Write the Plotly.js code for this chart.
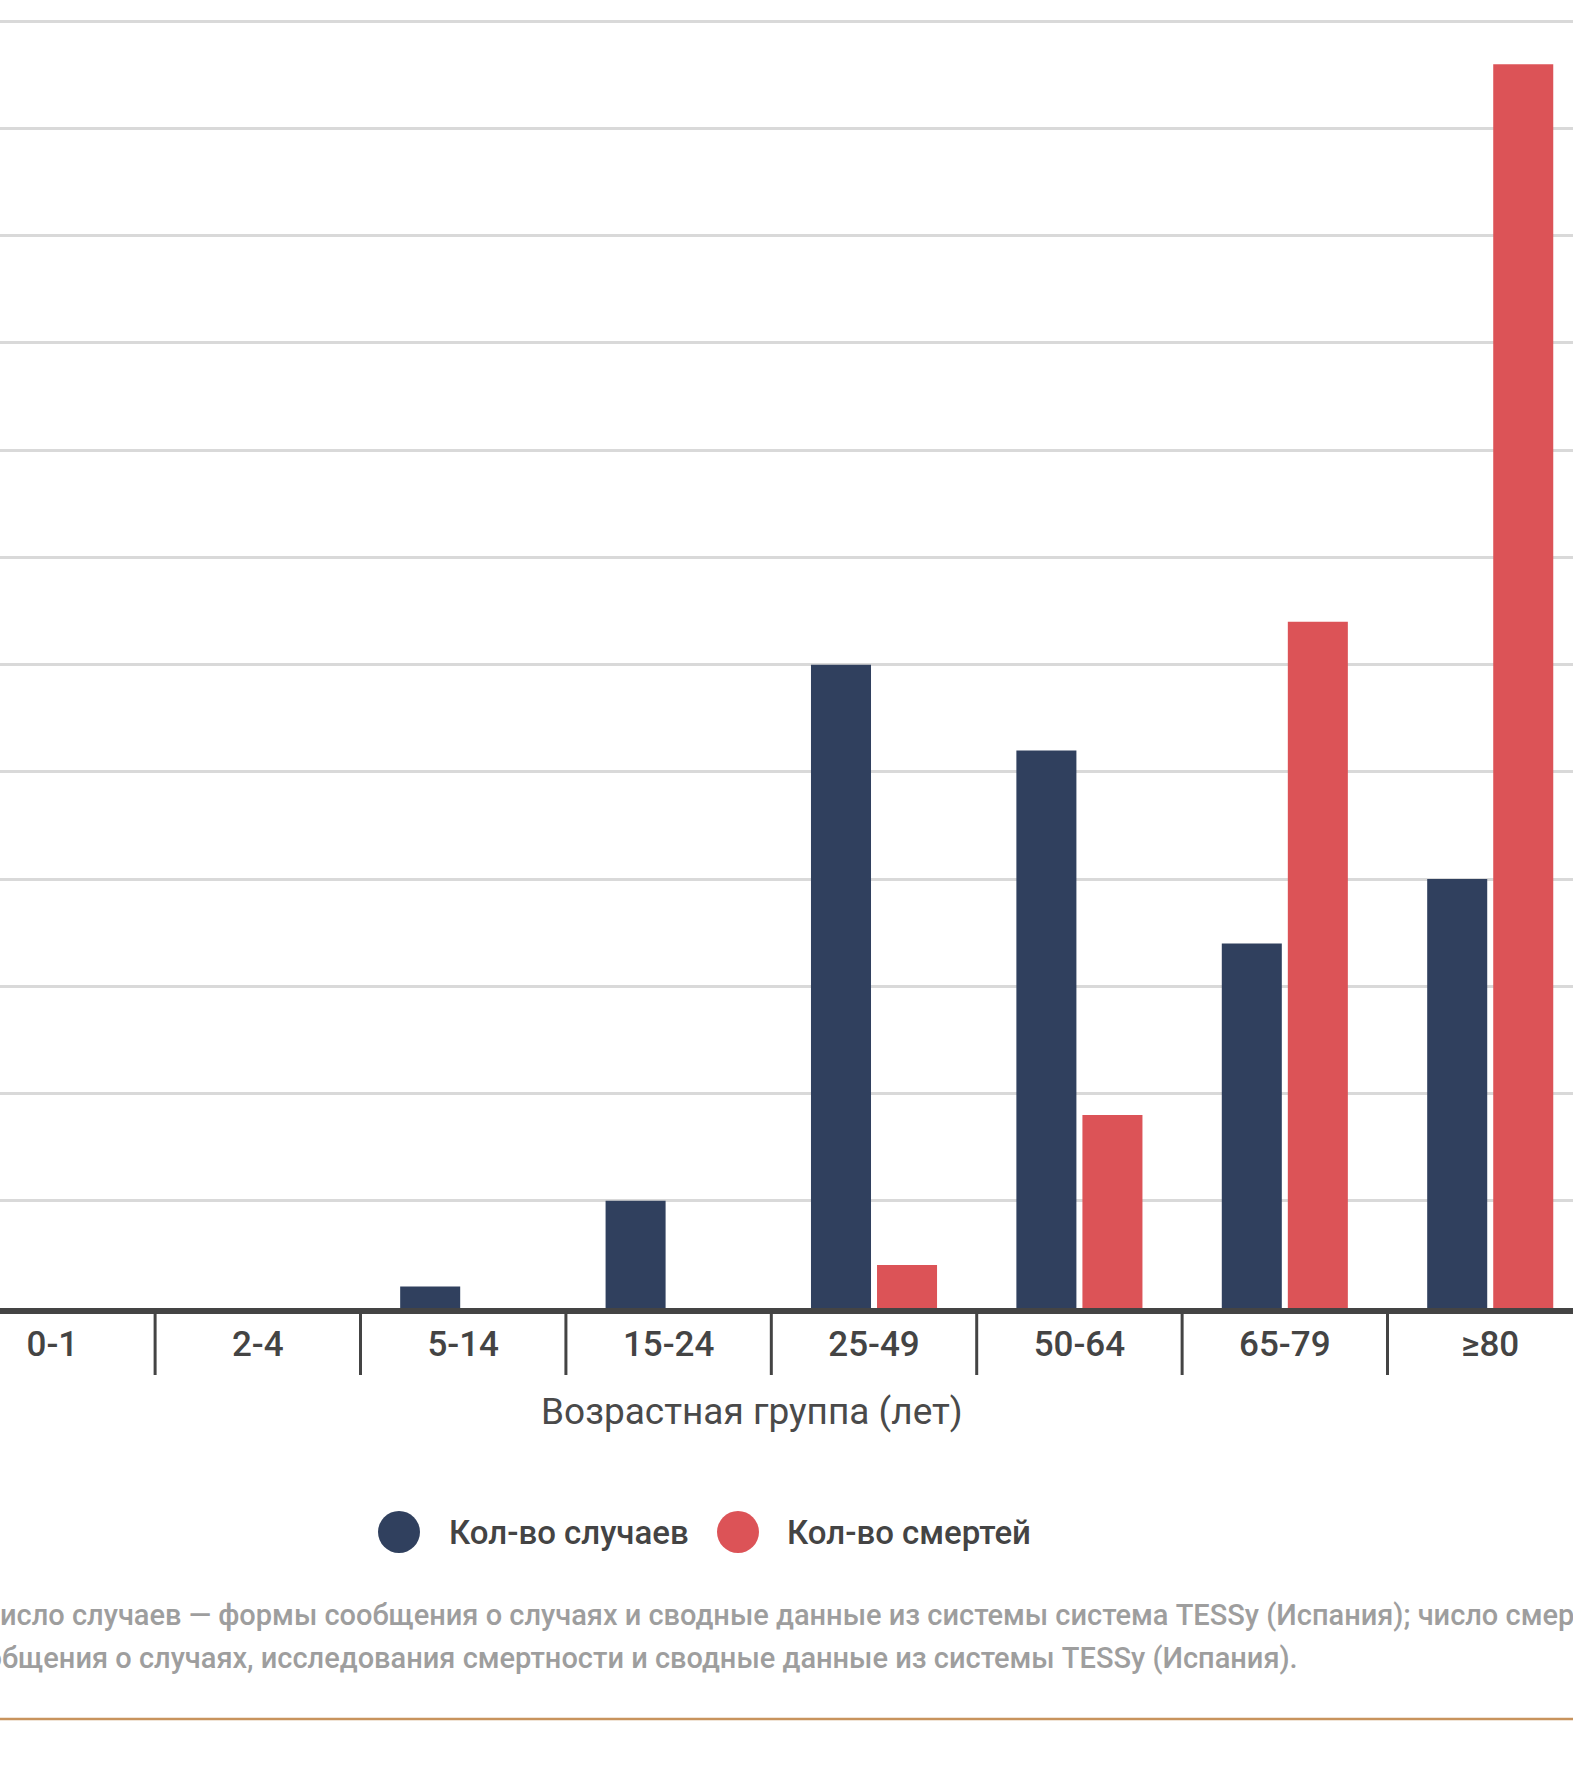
<!DOCTYPE html>
<html>
<head>
<meta charset="utf-8">
<script src="https://cdn.plot.ly/plotly-3.0.1.min.js"></script>
<style>
  html, body { margin: 0; padding: 0; background: #ffffff; }
  #chart { width: 1573px; height: 1769px; }
</style>
</head>
<body>
<div id="chart"></div>
<script>
// ---- data ----
const ageGroups = ["0-1", "2-4", "5-14", "15-24", "25-49", "50-64", "65-79", "≥80"];
const casesCount = [0, 0, 1, 5, 30, 26, 17, 20];
const deathsCount = [0, 0, 0, 0, 2, 9, 32, 58];
const seriesNames = ["Кол-во случаев", "Кол-во смертей"];
const xTitle = "Возрастная группа (лет)";
const noteLine1 = "Число случаев — формы сообщения о случаях и сводные данные из системы система TESSy (Испания); число смертей — формы";
const noteLine2 = "сообщения о случаях, исследования смертности и сводные данные из системы TESSy (Испания).";

// ---- style ----
const NAVY = "#30405e";
const RED = "#dc5357";
const W = 1573, H = 1769;
const TOP = 17, BOTTOM = 1308;
const PH = BOTTOM - TOP;
const py = (pix) => (BOTTOM - pix) / PH;   // pixel y -> paper y
const px = (pix) => pix / W;               // pixel x -> paper x
const FONT = "Roboto, 'Noto Sans', sans-serif";

const traces = [
  { type: "bar", name: seriesNames[0], x: ageGroups, y: casesCount,
    marker: { color: NAVY }, hoverinfo: "x+y+name" },
  { type: "bar", name: seriesNames[1], x: ageGroups, y: deathsCount,
    marker: { color: RED }, hoverinfo: "x+y+name" }
];

// category boundary ticks
const shapes = [];
for (let i = 0; i < ageGroups.length - 1; i++) {
  shapes.push({ type: "line", xref: "x", yref: "paper", x0: i + 0.5, x1: i + 0.5,
    y0: py(1311), y1: py(1375), line: { color: "#444444", width: 3 } });
}
// legend circles
const legendY = py(1532);
[[399, NAVY], [738, RED]].forEach(([cx, col]) => {
  shapes.push({ type: "circle", xref: "paper", yref: "paper",
    xsizemode: "pixel", ysizemode: "pixel", xanchor: px(cx), yanchor: legendY,
    x0: -21, x1: 21, y0: -21, y1: 21, fillcolor: col, line: { width: 0 } });
});
// bottom rule
shapes.push({ type: "line", xref: "paper", yref: "paper", x0: 0, x1: 1,
  y0: py(1719), y1: py(1719), line: { color: "#c8935d", width: 2.5 } });

const annotations = [
  { xref: "paper", yref: "paper", x: px(752), y: py(1411), xanchor: "center", yanchor: "middle",
    showarrow: false, text: xTitle, font: { family: FONT, size: 37, color: "#4a4a4a" } },
  { xref: "paper", yref: "paper", x: px(447), y: legendY, xanchor: "left", yanchor: "middle",
    showarrow: false, text: seriesNames[0], font: { family: FONT, size: 33, color: "#444444", weight: 500 } },
  { xref: "paper", yref: "paper", x: px(785), y: legendY, xanchor: "left", yanchor: "middle",
    showarrow: false, text: seriesNames[1], font: { family: FONT, size: 33, color: "#444444", weight: 500 } },
  { xref: "paper", yref: "paper", x: px(-22), y: py(1615), xanchor: "left", yanchor: "middle",
    showarrow: false, text: noteLine1, font: { family: FONT, size: 29, color: "#9e9e9e", weight: 500 } },
  { xref: "paper", yref: "paper", x: px(-48), y: py(1658), xanchor: "left", yanchor: "middle",
    showarrow: false, text: noteLine2, font: { family: FONT, size: 29, color: "#9e9e9e", weight: 500 } }
];

const layout = {
  width: W, height: H,
  margin: { l: 0, r: 0, t: TOP, b: H - BOTTOM, pad: 0 },
  paper_bgcolor: "#ffffff", plot_bgcolor: "#ffffff",
  showlegend: false,
  barmode: "group", bargap: 0.357, bargroupgap: 0.091,
  font: { family: FONT, color: "#444444" },
  xaxis: {
    type: "category", range: [-0.2551, 7.403], fixedrange: true,
    showline: true, linecolor: "#444444", linewidth: 6, layer: "above traces",
    showgrid: false, zeroline: false, ticks: "",
    tickfont: { family: FONT, size: 35, color: "#444444", weight: 500 }
  },
  yaxis: {
    range: [0, 60.2], dtick: 5, tick0: 0, fixedrange: true,
    showgrid: true, gridcolor: "#d9d9d9", gridwidth: 3,
    zeroline: false, showticklabels: false, ticks: "", showline: false
  },
  shapes: shapes,
  annotations: annotations
};

Plotly.newPlot("chart", traces, layout, { displayModeBar: false, staticPlot: true });
</script>
</body>
</html>
